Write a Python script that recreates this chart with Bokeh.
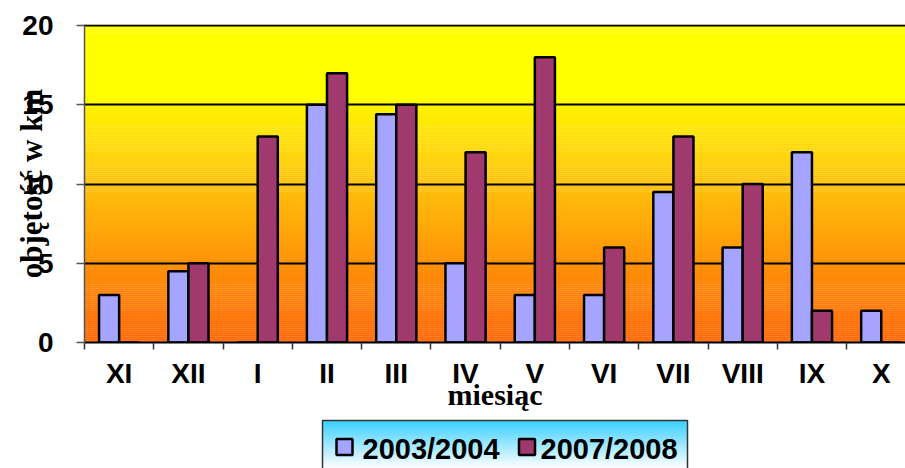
import numpy as np
from bokeh.plotting import figure
from bokeh.layouts import column
from bokeh.models import Range1d, FixedTicker, ColumnDataSource
from bokeh.transform import dodge
from bokeh.core.properties import value
from bokeh.embed import file_html
from bokeh.resources import INLINE

# Monthly volumes (km³) for two hydrological years, Nov -> Oct
months = ["XI", "XII", "I", "II", "III", "IV", "V", "VI", "VII", "VIII", "IX", "X"]
series_names = ["2003/2004", "2007/2008"]
vol_2003 = [3, 4.5, 0, 15, 14.4, 5, 3, 3, 9.5, 6, 12, 2]
vol_2007 = [0, 5, 13, 17, 15, 12, 18, 6, 13, 10, 2, 0]
y_ticks = [0, 5, 10, 15, 20]

bar_colors = ["#A5A5FF", "#A03A6E"]
Y_MAX = 20.07
BAR_W = 0.29
LEFT, RIGHT = 84, 905
CHART_H = 414

p = figure(width=905, height=CHART_H,
           x_range=Range1d(0, 11.85), y_range=Range1d(0, Y_MAX),
           output_backend="svg", toolbar_location=None,
           min_border_left=LEFT, min_border_right=0,
           min_border_top=24, min_border_bottom=CHART_H - 342,
           outline_line_color=None, border_fill_color="white")

# vertical yellow -> orange gradient behind the bars
stop_v = [0, 5, 10, 15, 15.3, Y_MAX]
stop_rgb = np.array([(255, 102, 6), (255, 146, 8), (255, 194, 12),
                     (255, 244, 0), (255, 255, 0), (255, 255, 0)], dtype=float)
n = 160
edges = np.linspace(0, Y_MAX, n + 1)
mids = (edges[:-1] + edges[1:]) / 2
rgb = np.stack([np.interp(mids, stop_v, stop_rgb[:, k]) for k in range(3)], axis=1)
grad_colors = ["#%02x%02x%02x" % tuple(int(round(c)) for c in row) for row in rgb]
p.quad(left=0, right=12, bottom=edges[:-1], top=edges[1:] + 0.02,
       fill_color=grad_colors, line_color=None, level="image")

src = ColumnDataSource(dict(x=np.arange(len(months)) + 0.5, a=vol_2003, b=vol_2007))
p.vbar(x=dodge("x", -BAR_W / 2), top="a", width=BAR_W, source=src,
       fill_color=bar_colors[0], line_color="black", line_width=2.5)
p.vbar(x=dodge("x", BAR_W / 2), top="b", width=BAR_W, source=src,
       fill_color=bar_colors[1], line_color="black", line_width=2.5)

# x axis: labels at category centres, tick marks at category boundaries
centers = [i + 0.5 for i in range(len(months))]
p.xaxis.ticker = FixedTicker(ticks=centers, minor_ticks=list(range(len(months) + 1)))
p.xaxis.major_label_overrides = {c: m for c, m in zip(centers, months)}
p.xaxis.major_tick_out = 0
p.xaxis.major_tick_in = 0
p.xaxis.minor_tick_out = 7
p.xaxis.minor_tick_in = 0
p.xaxis.minor_tick_line_color = "#333333"
p.xaxis.minor_tick_line_width = 1.5
p.xaxis.axis_line_color = "black"
p.xaxis.axis_line_width = 2
p.xaxis.major_label_standoff = 8
p.xaxis.major_label_text_font = "Liberation Sans"
p.xaxis.major_label_text_font_style = "bold"
p.xaxis.major_label_text_font_size = "28px"
p.xaxis.major_label_text_color = "black"
p.xaxis.axis_label = "miesiąc"
p.xaxis.axis_label_standoff = -14
p.xaxis.axis_label_text_font = "Liberation Serif"
p.xaxis.axis_label_text_font_style = "bold"
p.xaxis.axis_label_text_font_size = "30px"
p.xaxis.axis_label_text_color = "black"

p.yaxis.ticker = FixedTicker(ticks=y_ticks, minor_ticks=[])
p.yaxis.major_tick_out = 8
p.yaxis.major_tick_in = 0
p.yaxis.major_tick_line_color = "#555555"
p.yaxis.major_tick_line_width = 1.5
p.yaxis.axis_line_color = "#555555"
p.yaxis.axis_line_width = 1.5
p.yaxis.major_label_standoff = 23
p.yaxis.major_label_text_font = "Liberation Sans"
p.yaxis.major_label_text_font_style = "bold"
p.yaxis.major_label_text_font_size = "28px"
p.yaxis.major_label_text_color = "black"
p.yaxis.axis_label = "objętość w km"
p.yaxis.axis_label_standoff = -30
p.yaxis.axis_label_text_font = "Liberation Serif"
p.yaxis.axis_label_text_font_style = "bold"
p.yaxis.axis_label_text_font_size = "31px"
p.yaxis.axis_label_text_color = "black"

p.xgrid.visible = False
p.ygrid.ticker = FixedTicker(ticks=y_ticks[1:])
p.ygrid.grid_line_color = "black"
p.ygrid.grid_line_width = 2

# legend strip with a cyan -> white gradient box
# (x in page pixels, y in pixels below y=410 of the page)
leg = figure(width=905, height=468 - CHART_H,
             x_range=Range1d(LEFT, RIGHT), y_range=Range1d(58, CHART_H - 410),
             output_backend="svg", toolbar_location=None,
             min_border_left=LEFT, min_border_right=0, min_border_top=0, min_border_bottom=0,
             outline_line_color=None, x_axis_type=None, y_axis_type=None,
             border_fill_color="white", background_fill_color="white")
m = 48
ledges = np.linspace(10, 58, m + 1)
lt = (ledges[:-1] + ledges[1:]) / 2
lt = (lt - 10) / 48
top_rgb = np.array([30, 200, 255], dtype=float)
bot_rgb = np.array([255, 255, 255], dtype=float)
leg_colors = ["#%02x%02x%02x" % tuple(int(round(v)) for v in (top_rgb + (bot_rgb - top_rgb) * t))
              for t in lt]
leg.quad(left=322, right=687, top=ledges[:-1], bottom=ledges[1:] + 0.3,
         fill_color=leg_colors, line_color=None)
leg.quad(left=322, right=687, top=10, bottom=64, fill_color=None,
         line_color="#333333", line_width=1.5)
leg.rect(x=[344, 526.5], y=[36.5, 36.5], width=16, height=16,
         fill_color=bar_colors, line_color="black", line_width=2.5)
leg.text(x=[362, 540], y=[38, 38], text=series_names,
         text_font=value("Liberation Sans"), text_font_style="bold",
         text_font_size="29px", text_baseline="middle", text_color="black")

layout = column(p, leg, spacing=0)
open("out.html", "w").write(file_html(layout, INLINE))
